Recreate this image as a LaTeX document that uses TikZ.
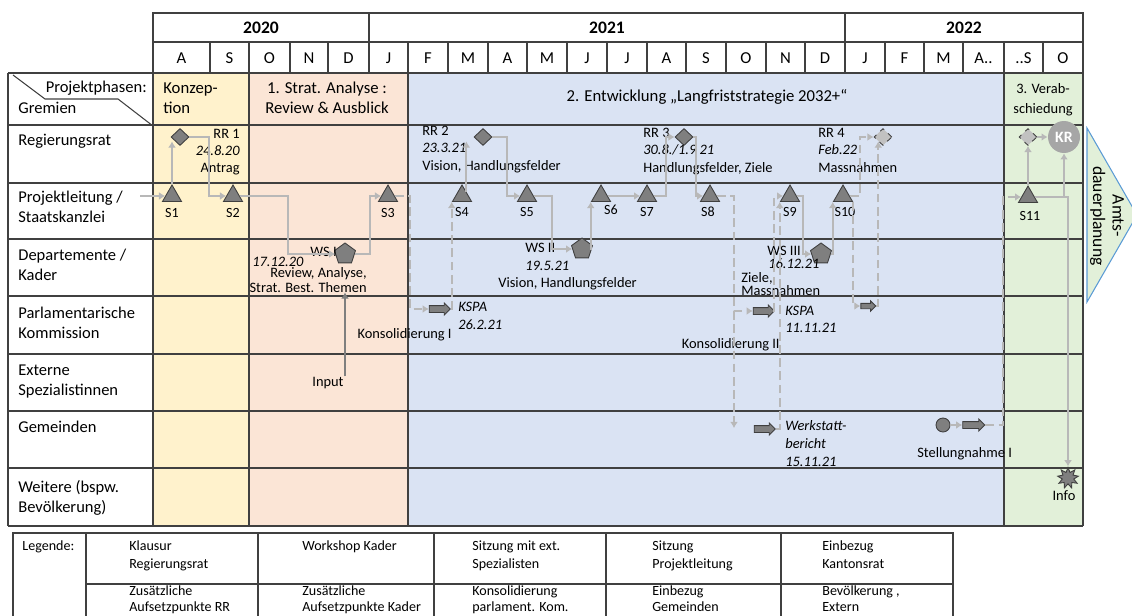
\documentclass[tikz,border=0pt]{standalone}
\usepackage{fontspec}
\setmainfont{Carlito}
\usetikzlibrary{arrows.meta,shapes.geometric,shapes.arrows}
\definecolor{konzcol}{HTML}{FFF2CC}
\definecolor{stratcol}{HTML}{FBE5D6}
\definecolor{entwcol}{HTML}{DAE3F3}
\definecolor{verabcol}{HTML}{E2F0D9}
\definecolor{gridcol}{HTML}{404040}
\definecolor{markcol}{HTML}{7F7F7F}
\definecolor{marklinecol}{HTML}{3F3F3F}
\definecolor{flowcol}{HTML}{B8B8B8}
\definecolor{krcol}{HTML}{A6A6A6}
\definecolor{amtsline}{HTML}{5B9BD5}

\begin{document}
\begin{tikzpicture}[x=0.02cm,y=-0.02cm,>=Latex,
  grid/.style={draw=gridcol,line width=0.6pt},
  jahr/.style={font=\bfseries\fontsize{10}{12}\selectfont,inner sep=0pt},
  monat/.style={font=\fontsize{9.5}{11}\selectfont,inner sep=0pt},
  rowlbl/.style={font=\fontsize{9.4}{11.3}\selectfont,anchor=base west,align=left,inner sep=0pt},
  phase/.style={font=\fontsize{9.5}{11.3}\selectfont,anchor=base,align=center,inner sep=0pt},
  lbl/.style={font=\fontsize{8.2}{9.8}\selectfont,anchor=base west,align=left,inner sep=0pt},
  lblr/.style={lbl,anchor=base east,align=right},
  slbl/.style={font=\fontsize{8}{9}\selectfont,inner sep=0pt},
  leg/.style={font=\fontsize{8}{10}\selectfont,anchor=base west,align=left,inner sep=0pt},
  leglow/.style={leg,font=\fontsize{8}{9}\selectfont},
  sitzung/.style={regular polygon,regular polygon sides=3,minimum size=0.44cm,inner sep=0pt,
    fill=markcol,draw=marklinecol,line width=0.5pt},
  klausur/.style={diamond,minimum width=0.36cm,minimum height=0.34cm,inner sep=0pt,
    fill=markcol,draw=marklinecol,line width=0.5pt},
  klausurx/.style={klausur,fill=krcol!70,dashed},
  workshop/.style={regular polygon,regular polygon sides=5,minimum size=0.44cm,inner sep=0pt,
    fill=markcol,draw=marklinecol,line width=0.5pt},
  kom/.style={single arrow,minimum height=0.42cm,single arrow head extend=0.05cm,inner sep=0.06cm,
    fill=markcol,draw=marklinecol,line width=0.5pt},
  flow/.style={draw=flowcol,line width=1.3pt,-{Latex[length=3.5pt,width=4.5pt]}},
  dflow/.style={flow,dash pattern=on 5pt off 2.5pt},
  inflow/.style={flow,draw=markcol}]

\useasboundingbox (0,0) rectangle (1132,615);

\fill[konzcol] (153,73) rectangle (249,526);
\fill[stratcol] (249,73) rectangle (408,526);
\fill[entwcol] (408,73) rectangle (1004,526);
\fill[verabcol] (1004,73) rectangle (1083,526);

\foreach \xa/\xb/\j in {153/369/2020,369/845/2021,845/1083/2022} {
  \draw[grid] (\xa,13) rectangle (\xb,42);
  \node[jahr] (y\j) at ({(\xa+\xb)/2},28) {\j};
}
\foreach \xa/\xb/\m [count=\i] in {153/210/A,210/249/S,249/290/O,290/328/N,328/369/D,
    369/408/J,408/448/F,448/488/M,488/527/A,527/567/M,567/607/J,607/647/J,647/686/A,
    686/726/S,726/766/O,766/805/N,805/845/D,845/885/J,885/924/F,924/963/M,963/1004/A..,
    1004/1043/..S,1043/1083/O} {
  \draw[grid] (\xa,42) rectangle (\xb,73);
  \node[monat] (m\i) at ({(\xa+\xb)/2},58) {\m};
}
\foreach \y in {73,125,183,239,296,354,411,468,526}
  \draw[grid] (8,\y) -- (1083,\y);
\foreach \x in {8,153,249,408,1004,1083}
  \draw[grid] (\x,73) -- (\x,526);
\draw[grid] (13,75) -- (45,99) -- (118,99) -- (153,126);

\node[rowlbl,anchor=base east] (kphase) at (147,92) {Projektphasen:};
\node[rowlbl] (kgrem) at (18,113) {Gremien};
\node[rowlbl] (gRR) at (18,145) {Regierungsrat};
\node[rowlbl] (gPL) at (18,222) {Projektleitung /\\Staatskanzlei};
\node[rowlbl] (gDK) at (18,280) {Departemente /\\Kader};
\node[rowlbl] (gPK) at (18,338) {Parlamentarische\\Kommission};
\node[rowlbl] (gES) at (18,395) {Externe\\Spezialistinnen};
\node[rowlbl] (gGE) at (18,432) {Gemeinden};
\node[rowlbl] (gWE) at (18,512) {Weitere (bspw.\\Bevölkerung)};

\node[phase,anchor=base west,align=left] (pkonz) at (163,113) {Konzep-\\tion};
\node[phase] (pstrat) at (327,113) {1. Strat. Analyse :\\Review \& Ausblick};
\node[phase] (pentw) at (707,102) {2. Entwicklung „Langfriststrategie 2032+“};
\node[phase,font=\fontsize{8.2}{11.3}\selectfont] (pverab) at (1043,113) {3. Verab-\\schiedung};

\node[sitzung] (S1) at (172,196) {};
\node[sitzung] (S2) at (233,196) {};
\node[sitzung] (S3) at (388,196) {};
\node[sitzung] (S4) at (462,196) {};
\node[sitzung] (S5) at (527,196) {};
\node[sitzung] (S6) at (601,196) {};
\node[sitzung] (S7) at (647,196) {};
\node[sitzung] (S8) at (710,196) {};
\node[sitzung] (S9) at (790,196) {};
\node[sitzung] (S10) at (843,196) {};
\node[sitzung] (S11) at (1028,197) {};
\node[slbl] (S1l) at (172,213) {S1};
\node[slbl] (S2l) at (233,213) {S2};
\node[slbl] (S3l) at (388,213) {S3};
\node[slbl] (S4l) at (462,212) {S4};
\node[slbl] (S5l) at (527,212) {S5};
\node[slbl] (S6l) at (611,210) {S6};
\node[slbl] (S7l) at (647,212) {S7};
\node[slbl] (S8l) at (708,212) {S8};
\node[slbl] (S9l) at (790,212) {S9};
\node[slbl] (S10l) at (845,212) {S10};
\node[slbl] (S11l) at (1030,216) {S11};

\node[klausur] (RR1) at (180,137) {};
\node[klausur] (RR2) at (483,137) {};
\node[klausur] (RR3) at (684,137) {};
\node[klausurx] (RR4) at (883,137) {};
\node[klausurx] (RRx) at (1028,137) {};
\node[circle,fill=krcol,text=white,font=\bfseries\fontsize{9}{9}\selectfont,
  minimum size=0.64cm,inner sep=0pt] (KR) at (1064,137) {KR};
\node[lblr] (RR1l) at (240,173) {RR 1\\\textit{24.8.20}\\Antrag};
\node[lbl] (RR2l) at (422,170) {RR 2\\\textit{23.3.21}\\Vision, Handlungsfelder};
\node[lbl] (RR3l) at (643,172) {RR 3\\\textit{30.8./1.9 21}\\Handlungsfelder, Ziele};
\node[lbl] (RR4l) at (818,172) {RR 4\\\textit{Feb.22}\\Massnahmen};

\node[workshop] (WSI) at (345,254) {};
\node[workshop] (WSII) at (582,249) {};
\node[workshop] (WSIII) at (821,254) {};
\node[lblr] (WSIn) at (337,256) {WS I};
\node[lbl] (WSId) at (252,266) {\textit{17.12.20}};
\node[lblr,font=\fontsize{8.2}{6.8}\selectfont] (WSIt) at (367,292) {Review, Analyse,\\Strat. Best. Themen};
\node[lbl] (WSIIn) at (525,252) {WS II};
\node[lbl] (WSIId) at (525,270) {\textit{19.5.21}};
\node[lbl] (WSIIt) at (498,287) {Vision, Handlungsfelder};
\node[lbl] (WSIIIn) at (767,255) {WS III};
\node[lbl] (WSIIId) at (768,268) {\textit{16.12.21}};
\node[lbl,font=\fontsize{8.2}{7.4}\selectfont] (WSIIIt) at (741,295) {Ziele,\\Massnahmen};

\node[kom] (kspaI) at (438,309) {};
\node[kom] (kspaII) at (762,311) {};
\node[kom,minimum height=0.3cm,inner sep=0.045cm] (kspaIII) at (867,306) {};
\node[kom] (werk) at (763,429) {};
\node[kom,minimum height=0.44cm] (stel) at (972,425) {};
\node[circle,fill=markcol,draw=marklinecol,line width=0.5pt,minimum size=0.28cm,inner sep=0pt] (stc) at (943,425) {};
\node[star,star points=9,star point ratio=1.8,minimum size=0.42cm,inner sep=0pt,
  fill=markcol,draw=marklinecol,line width=0.5pt] (info) at (1068,478) {};
\node[lbl,font=\itshape\fontsize{8.2}{10.2}\selectfont] (kspaIl) at (458,329) {KSPA\\26.2.21};
\node[lbl,font=\itshape\fontsize{8.2}{9.2}\selectfont] (kspaIIl) at (785,332) {KSPA\\11.11.21};
\node[lblr] (konsI) at (452,338) {Konsolidierung I};
\node[lblr] (konsII) at (780,348) {Konsolidierung II};
\node[lbl,font=\itshape\fontsize{8.2}{10}\selectfont] (werkl) at (785,466) {Werkstatt-\\bericht\\15.11.21};
\node[lbl] (stell) at (917,457) {Stellungnahme I};
\node[lbl,anchor=base] (input) at (328,386) {Input};
\node[lbl,anchor=base] (infol) at (1064,500) {Info};

\draw[fill=verabcol,draw=amtsline,line width=0.6pt] (1087,128) -- (1137,215) -- (1087,302) -- cycle;
\node[rotate=-90,align=center,inner sep=0pt,font=\fontsize{10}{11}\selectfont] (amts) at (1107,216) {Amts-\\dauerplanung};

\coordinate (start) at (140,196);
\coordinate (gemdn) at (734,428);
\draw[flow] (start) -- (S1.west);
\draw[flow] (S1.north) -- (S1.north |- RR1.south west);
\draw[flow] (RR1.east) -- (209,137) |- (S2.west);
\draw[flow] (S2.east) -- (288,196) |- (WSI.west);
\draw[flow] (WSI.east) -- (370,254) |- (S3.west);
\draw[dflow] (S3.east) -- (410,196) |- (kspaI.west);
\draw[dflow] (kspaI.east) -| (S4.corner 2);
\draw[flow] (S4.north east) -- (S4.north east |- RR2.south west);
\draw[flow] (RR2.east) -- (507,137) |- (S5.west);
\draw[flow] (S5.east) -- (552,196) |- (WSII.west);
\draw[flow] (WSII.east) -| (S6.corner 2);
\draw[flow] (S6.east) -- (S7.west);
\draw[flow] (S7.east) -- (666,196) |- (RR3.west);
\draw[flow] (RR3.east) -- (696,137) |- (S8.west);
\draw[dflow] (S8.east) -- (734,196) |- (kspaII.west);
\draw[dflow] (kspaII.west -| gemdn) -- (gemdn);
\draw[dflow] (kspaII.east) -- (774,311) |- (S9.west);
\draw[dflow] (werk.east) -| (S9.corner 2);
\draw[flow] (S9.east) -- (803,196) |- (WSIII.west);
\draw[flow] (WSIII.east) -| (S10.corner 2);
\draw[dflow] (S10.east) -- (860,196) |- (RR4.west);
\draw[dflow] (S10.corner 3) |- (kspaIII.west);
\draw[dflow] (kspaIII.east) -| (RR4.south west);
\draw[flow] (stc.east) -- (stel.west);
\draw[dflow] (stel.east) -- (1003,425) |- (S11.west);
\draw[flow] (S11.north) -- (RRx.south);
\draw[flow] (RRx.east) -- (KR.west);
\draw[flow] (S11.east) -| (KR.south);
\draw[flow] (S11.east) -| (info.north);
\draw[inflow] (input.north -| WSI.south) -- (WSI.south |- WSIt.south);

\draw[grid] (13,533) rectangle (953,620);
\draw[grid] (86,584) -- (953,584);
\foreach \x in {86,258,434,606,781}
  \draw[grid] (\x,533) -- (\x,620);
\node[leg] (leg0) at (22,550) {Legende:};
\node[leg] (leg1) at (129,568) {Klausur\\Regierungsrat};
\node[leg] (leg2) at (302,550) {Workshop Kader};
\node[leg] (leg3) at (472,568) {Sitzung mit ext.\\Spezialisten};
\node[leg] (leg4) at (652,568) {Sitzung\\Projektleitung};
\node[leg] (leg5) at (822,568) {Einbezug\\Kantonsrat};
\node[leglow] (leg6) at (129,611) {Zusätzliche\\Aufsetzpunkte RR};
\node[leglow] (leg7) at (302,611) {Zusätzliche\\Aufsetzpunkte Kader};
\node[leglow] (leg8) at (472,611) {Konsolidierung\\parlament. Kom.};
\node[leglow] (leg9) at (652,611) {Einbezug\\Gemeinden};
\node[leglow] (leg10) at (822,611) {Bevölkerung ,\\Extern};
\end{tikzpicture}
\end{document}
